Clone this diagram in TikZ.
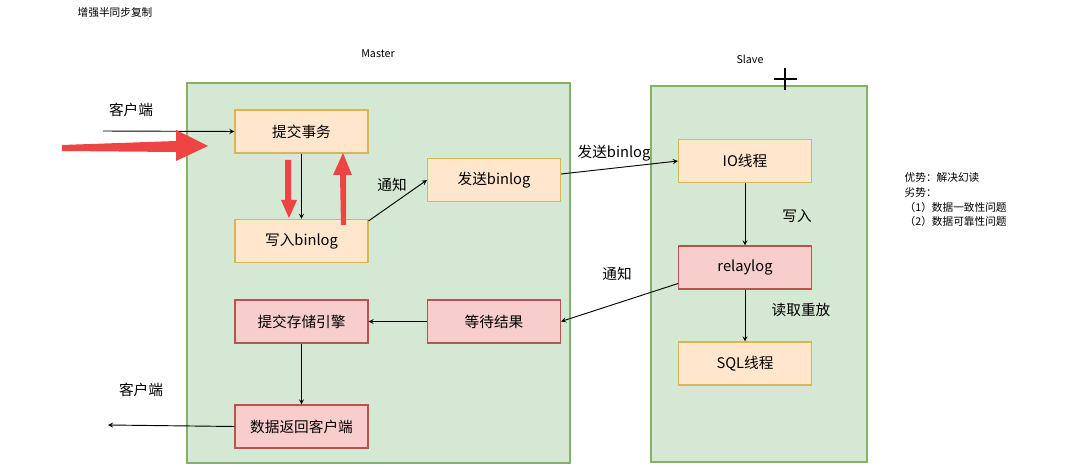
\documentclass[tikz,border=0pt]{standalone}
\usepackage{fontspec}
\setmainfont{Noto Sans CJK SC}
\begin{document}
\begin{tikzpicture}[x=0.75pt,y=-0.75pt,
  cont/.style={draw=green!40!black!60!white,fill=gfill,line width=0.8pt},
  ob/.style={draw=ostroke,fill=ofill,line width=0.8pt,minimum width=99.75pt,minimum height=32.25pt,font=\fontsize{11}{13}\selectfont,inner sep=0},
  pb/.style={ob,draw=pstroke,fill=pfill},
  lab/.style={font=\fontsize{11}{13}\selectfont},
  arr/.style={-stealth,line width=0.7pt},
  red/.style={fill=redc,draw=none}]
\definecolor{gfill}{HTML}{D5E8D4}\definecolor{gstroke}{HTML}{82B366}
\definecolor{ofill}{HTML}{FFE6CC}\definecolor{ostroke}{HTML}{D6B656}
\definecolor{pfill}{HTML}{F8CECC}\definecolor{pstroke}{HTML}{B85450}
\definecolor{redc}{HTML}{EE4444}
\useasboundingbox (0,0) rectangle (1072,474);
\draw[draw=gstroke,fill=gfill,line width=0.8pt] (187,83) rectangle (570,463);
\draw[draw=gstroke,fill=gfill,line width=0.8pt] (651,86) rectangle (867,462);
\node[font=\fontsize{8}{10}\selectfont] (title) at (115,12) {增强半同步复制};
\node[font=\fontsize{8}{10}\selectfont] (master) at (378,54) {Master};
\node[font=\fontsize{8}{10}\selectfont] (slave) at (750,59) {Slave};
\coordinate (p1) at (774,79);\coordinate (p2) at (797,79);
\coordinate (p3) at (785,68);\coordinate (p4) at (785,90);
\draw[line width=1pt] (p1)--(p2) (p3)--(p4);
\node[ob] (commit) at (301.5,131.5) {提交事务};
\node[ob] (wbin) at (301.5,241) {写入binlog};
\node[ob] (send) at (494,180) {发送binlog};
\node[pb] (engine) at (301.5,321.5) {提交存储引擎};
\node[pb] (wait) at (494,321.5) {等待结果};
\node[pb] (ret) at (301.5,426.5) {数据返回客户端};
\node[ob] (io) at (745,161) {IO线程};
\node[pb] (relay) at (745,267.5) {relaylog};
\node[ob] (sql) at (745,363.5) {SQL线程};
\coordinate (cin) at (103,131);
\coordinate (cout) at (108,425);
\draw[arr] (cin) -- (commit.west);
\draw[arr] (commit.south) -- (wbin.north);
\draw[arr] (wbin.north east) ++(0,2) -- (send.west);
\draw[arr] (send.east) ++(0,-6) -- (io.west);
\draw[arr] (io.south) -- (relay.north);
\draw[arr] (relay.south west) ++(0,-6) -- (wait.east);
\draw[arr] (relay.south) -- (sql.north);
\draw[arr] (wait.west) -- (engine.east);
\draw[arr] (engine.south) -- (ret.north);
\draw[arr] (ret.west) -- (cout);
\node[lab] (l1) at (131,110) {客户端};
\node[lab] (l2) at (141,390) {客户端};
\node[lab] (l3) at (392,185) {通知};
\node[lab] (l4) at (614,153) {发送binlog};
\node[lab] (l5) at (797,216) {写入};
\node[lab] (l6) at (617,274) {通知};
\node[lab] (l7) at (801,310) {读取重放};
\node[font=\fontsize{8}{11}\selectfont,align=left,anchor=north west] (notes) at (900,168) {优势：解决幻读\\劣势：\\（1）数据一致性问题\\（2）数据可靠性问题};
% red arrows
\fill[redc] (62,145) -- (176,141) -- (176,130) -- (208,146) -- (176,161) -- (176,152) -- (62,151) -- cycle;
\fill[redc] (285,160) -- (291,160) -- (291,200) -- (297,200) -- (289,218) -- (281,200) -- (285,200) -- cycle;
\fill[redc] (341,225) -- (346,225) -- (346,175) -- (352,175) -- (343,153) -- (333,175) -- (340,175) -- cycle;
\end{tikzpicture}
\end{document}
